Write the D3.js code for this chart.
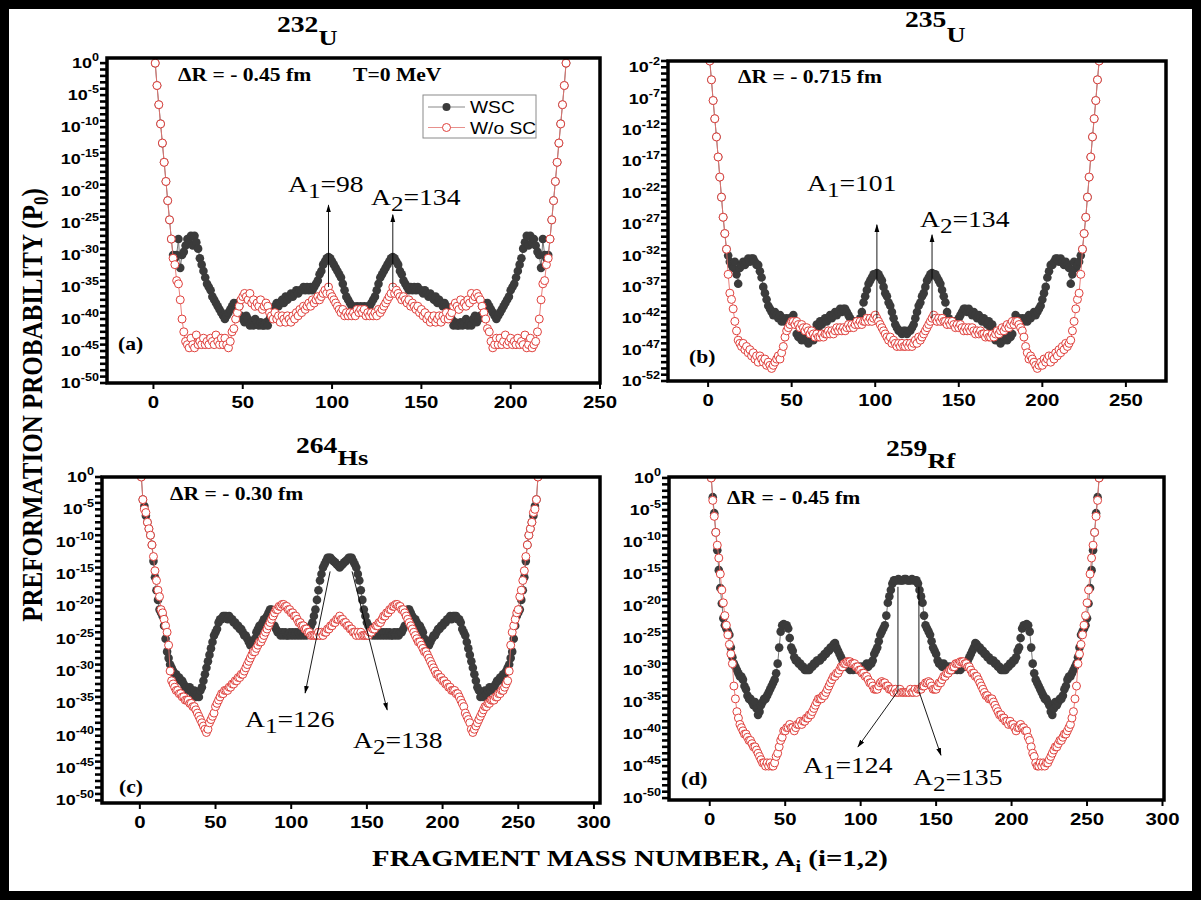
<!DOCTYPE html>
<html>
<head>
<meta charset="utf-8">
<script src="https://cdn.jsdelivr.net/npm/d3@7"></script>
<style>
  body { margin: 0; background: #fff; }
  svg { display: block; }
</style>
</head>
<body>
<svg id="chart" width="1202" height="900"></svg>
<script>
// log10(P0), one value per fragment mass A = 1, 2, 3, ...

// 232U
const u232Wsc = [
  0, -3.5, -6.5, -9.5, -12.5, -15.5, -18.5, -21.5, -24.5, -27.5,
  -30, -30.5, -30, -27.5, -32, -30, -29.5, -28.5, -27.5, -28,
  -27, -28.5, -27, -28, -29, -30.5, -31.5, -32.5, -33.5, -34.5,
  -35, -35.5, -36.5, -37, -37.5, -38, -38.5, -39, -39.5, -40,
  -39.5, -39, -38.5, -38, -37.5, -38.5, -37.5, -38, -39.5, -40,
  -40.5, -39.5, -40, -41, -40.5, -41, -40, -40.5, -41, -40.5,
  -41, -41, -40.5, -41, -40, -39.5, -38.5, -38, -37.5, -38,
  -37.5, -37, -37.5, -36.5, -37, -36.5, -36, -36.5, -36, -35.5,
  -36, -35.5, -35.5, -35, -35.5, -35, -35.5, -35, -35.5, -35,
  -34.5, -34, -33, -32.5, -31.5, -31, -30.5, -30.3, -30.5, -31,
  -31.5, -32, -32.5, -33, -33.5, -34.5, -35.5, -36.5, -37, -37.5,
  -38, -38, -38.5, -38, -38.5, -38, -38.5, -38, -38.5, -38,
  -38, -37.5, -37, -36.5, -35.5, -34.5, -33.5, -33, -32.5, -32,
  -31.5, -31, -30.5, -30.3, -30.5, -31, -31.5, -32.5, -33, -34,
  -34.5, -35, -35.5, -35, -35.5, -35, -35.5, -35, -35.5, -35.5,
  -36, -35.5, -36, -36.5, -36, -36.5, -37, -36.5, -37.5, -37,
  -37.5, -38, -37.5, -38, -38.5, -39.5, -40, -41, -40.5, -41,
  -41, -40.5, -41, -40.5, -40, -41, -40.5, -41, -40, -39.5,
  -40.5, -40, -39.5, -38, -37.5, -38.5, -37.5, -38, -38.5, -39,
  -39.5, -40, -39.5, -39, -38.5, -38, -37.5, -37, -36.5, -35.5,
  -35, -34.5, -33.5, -32.5, -31.5, -30.5, -29, -28, -27, -28.5,
  -27, -28, -27.5, -28.5, -29.5, -30, -32, -27.5, -30, -30.5,
  -30, -27.5, -24.5, -21.5, -18.5, -15.5, -12.5, -9.5, -6.5, -3.5, 0
];
const u232Wosc = [
  0, -3.5, -6.5, -9.5, -12.5, -15.5, -18.5, -21.5, -24.5, -27.5,
  -30.5, -31.5, -34, -34.5, -37, -40, -42, -43.5, -44, -44.5,
  -43, -44, -44.5, -42.5, -44, -43.5, -44, -43, -44, -43.5,
  -44, -43, -43.5, -44, -42.5, -43.5, -44, -43, -44, -43,
  -44, -44.5, -43.5, -42, -41.5, -40, -39, -38, -37, -36.5,
  -36, -36.5, -37, -36, -37.5, -37, -38, -37.5, -38, -37,
  -38.5, -38, -37.5, -38, -39, -39.5, -40, -39, -40, -39.5,
  -40.5, -39.5, -40, -40.5, -39.5, -40, -40.5, -39.5, -40, -39,
  -39.5, -38.5, -39, -38, -38.5, -38, -37.5, -38, -37, -37.5,
  -37, -36.5, -37, -36.5, -36, -35.5, -36, -35, -36, -36.5,
  -37, -37.5, -38, -38.5, -39, -38.5, -39.5, -39, -39.5, -39,
  -39.5, -39, -39.5, -38.5, -39, -38.5, -39, -38.5, -39.5, -39,
  -39.5, -39, -39.5, -39, -39.5, -38.5, -39, -38.5, -38, -37.5,
  -37, -36.5, -36, -35, -36, -35.5, -36, -36.5, -37, -36.5,
  -37, -37.5, -37, -38, -37.5, -38, -38.5, -38, -39, -38.5,
  -39.5, -39, -40, -39.5, -40.5, -40, -39.5, -40.5, -40, -39.5,
  -40.5, -39.5, -40, -39, -40, -39.5, -39, -38, -37.5, -38,
  -38.5, -37, -38, -37.5, -38, -37, -37.5, -36, -37, -36.5,
  -36, -36.5, -37, -38, -39, -40, -41.5, -42, -43.5, -44.5,
  -44, -43, -44, -43, -44, -43.5, -42.5, -44, -43.5, -43,
  -44, -43.5, -44, -43, -44, -43.5, -44, -42.5, -44.5, -44,
  -43, -44.5, -44, -43.5, -42, -40, -37, -34.5, -34, -31.5,
  -30.5, -27.5, -24.5, -21.5, -18.5, -15.5, -12.5, -9.5, -6.5, -3.5, 0
];

// 235U
const u235Wsc = [
  -1, -4, -7.3, -10.2, -13.1, -16.3, -19.5, -22.7, -25.9, -28.5,
  -31, -32, -33, -33.5, -34, -33, -35, -36.5, -34, -33.5,
  -33, -33.5, -33, -32.5, -33, -32.5, -32.5, -33, -33.5, -33.5,
  -34.5, -35.5, -37, -38, -39, -40, -40.5, -41, -41.5, -41,
  -41.5, -42, -41.5, -42.5, -42, -42.5, -42, -42.5, -42, -42,
  -41.5, -42.5, -44.5, -45, -44.5, -45.5, -45, -45.5, -45, -46,
  -45.5, -45, -45.5, -44, -43, -43.5, -42.5, -43, -42.5, -42,
  -42.5, -42, -41.5, -42, -41.5, -41, -41.5, -41, -40.5, -41,
  -40.5, -40.5, -41, -41.5, -42, -42.5, -42.5, -43, -42.5, -42.5,
  -42, -41, -39.5, -38.5, -37.5, -36.5, -36, -35.5, -35, -35,
  -34.8, -35, -35.5, -36, -37, -38, -38.5, -39.5, -40, -41,
  -42, -43, -43.5, -44, -44, -44.5, -44, -44, -44.5, -44,
  -44, -43.5, -43, -42, -41, -40, -39.5, -38.5, -38, -37,
  -36, -35.5, -35, -34.8, -35, -35, -35.5, -36, -36.5, -37.5,
  -38.5, -39.5, -41, -42, -42.5, -42.5, -43, -42.5, -42.5, -42,
  -41.5, -41, -40.5, -40.5, -41, -40.5, -41, -41.5, -41, -41.5,
  -42, -41.5, -42, -42.5, -42, -42.5, -43, -42.5, -43.5, -43,
  -44, -45.5, -45, -45.5, -46, -45, -45.5, -45, -45.5, -44.5,
  -45, -44.5, -42.5, -41.5, -42, -42, -42.5, -42, -42.5, -42,
  -42.5, -41.5, -42, -41.5, -41, -41.5, -41, -40.5, -40, -39,
  -38, -37, -35.5, -34.5, -33.5, -33.5, -33, -32.5, -32.5, -33,
  -32.5, -33, -33.5, -33, -33.5, -34, -36.5, -35, -33, -34,
  -33.5, -33, -32, -31, -28.5, -25.9, -22.7, -19.5, -16.3, -13.1, -10.2, -7.3, -4, -1
];
const u235Wosc = [
  -1, -4, -7.3, -10.2, -13.1, -16.3, -19.5, -22.7, -25.9, -28.5,
  -31, -35, -38, -39, -40.5, -42.5, -44, -45.5, -46, -46.5,
  -46, -47, -46.5, -47.5, -47, -48, -47.5, -48.5, -48, -49,
  -48, -48.5, -49, -48.5, -49.5, -49, -49.5, -50, -49.5, -49,
  -48.5, -48, -48.5, -47.5, -46.5, -45, -44, -43.5, -43, -42.5,
  -42.5, -43, -42.5, -43, -43.5, -43, -43.5, -44, -43.5, -44,
  -44.5, -44, -44.5, -45, -44.5, -45, -45, -44.5, -45, -44.5,
  -44.5, -44, -44.5, -44, -44.5, -44, -43.5, -44, -43.5, -44,
  -43.5, -44, -43.5, -43, -43.5, -43, -43.5, -43, -42.5, -43,
  -42.5, -43, -42.5, -42.5, -42, -42.5, -42, -42.5, -42, -41.5,
  -42, -42.5, -43, -43.5, -44, -44.5, -45, -45.5, -45, -46,
  -45.5, -46, -46.5, -46, -46.5, -46, -46.5, -46.5, -46, -46.5,
  -46, -46.5, -46, -45.5, -46, -45, -45.5, -45, -44.5, -44,
  -43.5, -43, -42.5, -42, -41.5, -42, -42.5, -42, -42.5, -42,
  -42.5, -42.5, -43, -42.5, -43, -42.5, -43, -43.5, -43, -43.5,
  -43, -43.5, -44, -43.5, -44, -43.5, -44, -43.5, -44, -44.5,
  -44, -44.5, -44, -44.5, -44.5, -45, -44.5, -45, -45, -44.5,
  -45, -44.5, -44, -44.5, -44, -43.5, -44, -43.5, -43, -43.5,
  -43, -42.5, -43, -42.5, -42.5, -43, -43.5, -44, -45, -46.5,
  -47.5, -48.5, -48, -48.5, -49, -49.5, -50, -49.5, -49, -49.5,
  -48.5, -49, -48.5, -48, -49, -48, -48.5, -47.5, -48, -47,
  -47.5, -46.5, -47, -46, -46.5, -46, -45.5, -44, -42.5, -40.5,
  -39, -38, -35, -31, -28.5, -25.9, -22.7, -19.5, -16.3, -13.1, -10.2, -7.3, -4, -1
];

// 264Hs
const hs264Wsc = [
  0, -3.5, -4.5, -6, -7, -8, -9, -10.5, -13, -15.5,
  -17.5, -19, -20.5, -21, -21.5, -23, -25, -27, -28, -29,
  -29.5, -30, -30.5, -30.5, -31, -31, -31.5, -31.5, -32, -32.5,
  -32.5, -33, -32.5, -33, -33.5, -33, -34, -33.5, -34, -33,
  -32.5, -31.5, -30.5, -29.5, -28.5, -27.5, -26.5, -25.5, -24.5, -24,
  -23.5, -22.5, -22, -22, -21.5, -21.5, -21.5, -22, -21.5, -22,
  -22, -22.5, -22.5, -23, -23, -23.5, -23.5, -24, -24.5, -24.5,
  -25, -25.5, -26, -26, -25.5, -25, -24, -23.5, -23, -23,
  -22.5, -22, -22, -21.5, -21, -20.5, -20.5, -21.5, -23, -23.5,
  -24, -24, -24.5, -24, -24.5, -24, -24.5, -24.5, -24, -24.5,
  -24, -24.5, -24, -24.5, -24, -24.5, -24, -24.5, -24, -24.5,
  -24, -23.5, -23, -22.5, -21.5, -20.5, -19, -17.5, -16, -15,
  -14, -13.5, -13, -12.5, -12.5, -12.5, -12.8, -13, -13.2, -13.5,
  -13.7, -14, -13.7, -13.5, -13.2, -13, -12.8, -12.5, -12.5, -12.5,
  -13, -13.5, -14, -15, -16, -17.5, -19, -20.5, -21.5, -22.5,
  -23, -23.5, -24, -24.5, -24, -24.5, -24, -24.5, -24, -24.5,
  -24, -24.5, -24, -24.5, -24, -24.5, -24.5, -24, -24.5, -24,
  -24.5, -24, -24, -23.5, -23, -21.5, -20.5, -20.5, -21, -21.5,
  -22, -22, -22.5, -23, -23, -23.5, -24, -25, -25.5, -26,
  -26, -25.5, -25, -24.5, -24.5, -24, -23.5, -23.5, -23, -23,
  -22.5, -22.5, -22, -22, -21.5, -22, -21.5, -21.5, -21.5, -22,
  -22, -22.5, -23.5, -24, -24.5, -25.5, -26.5, -27.5, -28.5, -29.5,
  -30.5, -31.5, -32.5, -33, -34, -33.5, -34, -33, -33.5, -33,
  -32.5, -33, -32.5, -32.5, -32, -31.5, -31.5, -31, -31, -30.5,
  -30.5, -30, -29.5, -29, -28, -27, -25, -23, -21.5, -21,
  -20.5, -19, -17.5, -15.5, -13, -10.5, -9, -8, -7, -6, -4.5, -3.5, 0
];
const hs264Wosc = [
  0, -3.5, -5, -5.5, -7, -8, -9, -10.5, -12.3, -14.5,
  -16, -17.5, -18.5, -20.5, -21, -22, -23, -24, -26, -30,
  -31.5, -32, -32.5, -33, -33, -33.5, -33.5, -34, -34, -34.5,
  -34.5, -34.5, -35, -35, -35.5, -35.5, -36, -36.5, -37, -37.5,
  -38, -38.5, -39, -39.5, -39, -38, -37.5, -37, -36.5, -35.5,
  -35, -34.5, -34, -33.5, -33.5, -33, -33, -33, -32.5, -32.5,
  -32, -32, -31.5, -31.5, -31, -31, -30.5, -30.5, -30, -29.5,
  -29, -28.5, -28, -27.5, -27, -27, -26.5, -26, -25.5, -25.5,
  -25, -24.5, -24, -23.5, -23, -22.5, -22, -21.5, -21, -20.5,
  -20.5, -20, -20, -19.7, -19.7, -20, -20, -20.5, -20.5, -21,
  -21, -21.5, -21.5, -22, -22.5, -22.5, -23, -23, -23.5, -23.5,
  -24, -24, -24.5, -24.5, -24.5, -24.5, -24.5, -24, -24.5, -24,
  -24.5, -24, -24, -23.5, -23.5, -23, -23, -22.5, -22.5, -22,
  -22, -21.5, -22, -22, -22.5, -22.5, -23, -23, -23.5, -23.5,
  -24, -24, -24.5, -24, -24.5, -24, -24.5, -24.5, -24.5, -24.5,
  -24.5, -24, -24, -23.5, -23.5, -23, -23, -22.5, -22.5, -22,
  -21.5, -21.5, -21, -21, -20.5, -20.5, -20, -20, -19.7, -19.7,
  -20, -20, -20.5, -20.5, -21, -21.5, -22, -22.5, -23, -23.5,
  -24, -24.5, -25, -25.5, -25.5, -26, -26.5, -27, -27, -27.5,
  -28, -28.5, -29, -29.5, -30, -30.5, -30.5, -31, -31, -31.5,
  -31.5, -32, -32, -32.5, -32.5, -33, -33, -33, -33.5, -33.5,
  -34, -34.5, -35, -35.5, -36.5, -37, -37.5, -38, -39, -39.5,
  -39, -38.5, -38, -37.5, -37, -36.5, -36, -35.5, -35.5, -35,
  -35, -34.5, -34.5, -34.5, -34, -34, -33.5, -33.5, -33, -33,
  -32.5, -32, -31.5, -30, -26, -24, -23, -22, -21, -20.5,
  -18.5, -17.5, -16, -14.5, -12.3, -10.5, -9, -8, -7, -5.5, -5, -3.5, 0
];

// 259Rf
const rf259Wsc = [
  0, -3, -5.5, -8.5, -11.3, -14.4, -17.2, -19.6, -21.9, -23,
  -23.5, -24, -24.5, -26.5, -28, -29, -29.5, -30, -30.5, -31,
  -31, -31.5, -32.5, -33, -34, -34.5, -34.5, -35, -35.5, -35,
  -36, -37, -36.5, -35.5, -35, -34.5, -34.5, -34, -33.5, -33,
  -32.5, -32, -31.5, -30.5, -29, -26.5, -24, -23, -22.8, -23,
  -23, -23.5, -25, -26.5, -27, -28, -28.5, -28.5, -29, -29,
  -29.5, -29.5, -30, -30, -30, -30, -29.5, -29.5, -29, -29,
  -28.5, -28.5, -28.5, -28, -28, -27.5, -27.5, -27, -27, -26.5,
  -26.5, -26, -25.8, -26.5, -27, -27.5, -28, -28.5, -29, -29.5,
  -29.5, -29.5, -30, -29.5, -30, -29.5, -29.5, -30, -29.5, -29.5,
  -29.5, -29.5, -29.5, -29, -29.5, -29, -29, -28.5, -27.5, -27,
  -26.5, -25.5, -24.5, -24, -23.5, -23, -21.5, -19.5, -18.5, -17.5,
  -16.5, -16, -16, -16, -15.8, -16, -16, -16, -15.8, -15.8,
  -16, -16, -16, -15.8, -16, -16, -16, -16.5, -17.5, -18.5,
  -19.5, -21.5, -23, -23.5, -24, -24.5, -25.5, -26.5, -27, -27.5,
  -28.5, -29, -29, -29.5, -29, -29.5, -29.5, -29.5, -29.5, -29.5,
  -30, -29.5, -29.5, -30, -29.5, -30, -29.5, -29.5, -29.5, -29,
  -28.5, -28, -27.5, -27, -26.5, -25.8, -26, -26.5, -26.5, -27,
  -27, -27.5, -27.5, -28, -28, -28.5, -28.5, -28.5, -29, -29,
  -29.5, -29.5, -30, -30, -30, -30, -29.5, -29.5, -29, -29,
  -28.5, -28.5, -28, -27, -26.5, -25, -23.5, -23, -23, -22.8,
  -23, -24, -26.5, -29, -30.5, -31.5, -32, -32.5, -33, -33.5,
  -34, -34.5, -34.5, -35, -35.5, -36.5, -37, -36, -35, -35.5,
  -35, -34.5, -34.5, -34, -33, -32.5, -31.5, -31, -31, -30.5,
  -30, -29.5, -29, -28, -26.5, -24.5, -24, -23.5, -23, -21.9,
  -19.6, -17.2, -14.4, -11.3, -8.5, -5.5, -3, 0
];
const rf259Wosc = [
  0, -3.5, -6, -8.5, -10.5, -12.5, -15, -17.5, -19.5, -21.5,
  -23, -24.5, -26, -27.5, -29, -32.5, -34.5, -36.5, -37.5, -38.5,
  -39, -39.5, -40, -40, -40.5, -41, -41, -41.5, -42, -42,
  -42.5, -43, -43.5, -44, -44.5, -44.5, -45, -44.5, -45, -44.5,
  -45, -45, -44.5, -43.5, -43, -42, -41, -40.5, -39.5, -39.5,
  -39, -39, -38.5, -39, -39, -39.5, -39, -38.5, -38.5, -38,
  -38.5, -38, -38, -37.5, -37.5, -37, -37, -36.5, -36, -35.5,
  -35, -34.5, -34.5, -34.5, -34, -34, -33.5, -33, -32.5, -32,
  -31.5, -31, -31, -30.5, -30.5, -30, -29.5, -29.5, -29, -29,
  -28.7, -28.7, -28.7, -29, -29, -29, -29.5, -29.5, -30, -30,
  -30.5, -30.5, -31, -31, -31.5, -32, -32, -32.5, -33, -33,
  -33, -32.5, -32, -31.8, -32, -32, -32.5, -32.5, -33, -33,
  -33, -33.5, -33, -33.5, -33.5, -33, -33.5, -33.5, -33.5, -33.5,
  -33.5, -33.5, -33, -33.5, -33.5, -33, -33.5, -33, -33, -33,
  -32.5, -32.5, -32, -32, -31.8, -32, -32.5, -33, -33, -33,
  -32.5, -32, -32, -31.5, -31, -31, -30.5, -30.5, -30, -30,
  -29.5, -29.5, -29, -29, -29, -28.7, -28.7, -28.7, -29, -29,
  -29.5, -29.5, -30, -30.5, -30.5, -31, -31, -31.5, -32, -32.5,
  -33, -33.5, -34, -34, -34.5, -34.5, -34.5, -35, -35.5, -36,
  -36.5, -37, -37, -37.5, -37.5, -38, -38, -38.5, -38, -38.5,
  -38.5, -39, -39.5, -39, -39, -38.5, -39, -39, -39.5, -39.5,
  -40.5, -41, -42, -43, -43.5, -44.5, -45, -45, -44.5, -45,
  -44.5, -45, -44.5, -44.5, -44, -43.5, -43, -42.5, -42, -42,
  -41.5, -41, -41, -40.5, -40, -40, -39.5, -39, -38.5, -37.5,
  -36.5, -34.5, -32.5, -29, -27.5, -26, -24.5, -23, -21.5, -19.5,
  -17.5, -15, -12.5, -10.5, -8.5, -6, -3.5, 0
];

// tick values
const yTicksStd = [-50, -45, -40, -35, -30, -25, -20, -15, -10, -5, 0];
const yTicksB = [-52, -47, -42, -37, -32, -27, -22, -17, -12, -7, -2];
const xTicks250 = [0, 50, 100, 150, 200, 250];
const xTicks300 = [0, 50, 100, 150, 200, 250, 300];

// peak annotations (mass number, label)
const peaksA = [{ a: 98, label: '98' }, { a: 134, label: '134' }];
const peaksB = [{ a: 101, label: '101' }, { a: 134, label: '134' }];
const peaksC = [{ a: 126, label: '126' }, { a: 138, label: '138' }];
const peaksD = [{ a: 124, label: '124' }, { a: 135, label: '135' }];

const seriesNames = ['WSC', 'W/o SC'];

const DARK = '#3b3b3b';
const RED = '#e0403c';
const SX = 1.2; // the original figure is stretched sideways, so is its lettering

const svg = d3.select('#chart');
const defs = svg.append('defs');

defs.append('marker')
  .attr('id', 'arrow')
  .attr('viewBox', '0 0 10 10')
  .attr('refX', 9)
  .attr('refY', 5)
  .attr('markerUnits', 'userSpaceOnUse')
  .attr('markerWidth', 8)
  .attr('markerHeight', 8)
  .attr('orient', 'auto')
  .append('path')
  .attr('d', 'M0,2 L10,5 L0,8 z')
  .attr('fill', '#000');

// outer frame of the figure
svg.append('rect')
  .attr('x', 4.5).attr('y', 4.5)
  .attr('width', 1192).attr('height', 891)
  .attr('fill', 'none')
  .attr('stroke', '#000')
  .attr('stroke-width', 9);

function stretched(parent, x, y, anchor) {
  return parent.append('text')
    .attr('transform', `translate(${x},${y}) scale(${SX},1)`)
    .attr('text-anchor', anchor || 'start');
}

const panels = [
  {
    key: 'a', iso: '232', sym: 'U', wsc: u232Wsc, wosc: u232Wosc,
    left: 107, top: 58, right: 600, bottom: 383,
    xMin: -26, xMax: 250, yMin: -50, yMax: 0.8,
    yTicks: yTicksStd, xTicks: xTicks250,
    title: [277, 32, 13], dr: 'ΔR = - 0.45 fm', drPos: [178, 81], tag: [118, 350],
    peaks: peaksA,
    arrows: [[[98, -35], [98, -22.2]], [[134, -35], [134, -23.7]]],
    peakText: [[288, 192], [371, 205]],
  },
  {
    key: 'b', iso: '235', sym: 'U', wsc: u235Wsc, wosc: u235Wosc,
    left: 668, top: 61, right: 1166, bottom: 381,
    xMin: -24, xMax: 274, yMin: -52, yMax: -1,
    yTicks: yTicksB, xTicks: xTicks250,
    title: [905, 27, 15], dr: 'ΔR = - 0.715 fm', drPos: [738, 83], tag: [689, 363],
    peaks: peaksB,
    arrows: [[[101, -42], [101, -27.1]], [[134, -42], [134, -28.7]]],
    peakText: [[807, 191], [920, 227]],
  },
  {
    key: 'c', iso: '264', sym: 'Hs', wsc: hs264Wsc, wosc: hs264Wosc,
    left: 102, top: 477, right: 600, bottom: 803,
    xMin: -25, xMax: 304, yMin: -50.4, yMax: 0,
    yTicks: yTicksStd, xTicks: xTicks300,
    title: [296, 453, 12], dr: 'ΔR = - 0.30 fm', drPos: [170, 500], tag: [119, 793],
    peaks: peaksC,
    arrows: [[[125.7, -14.6], [109.2, -33.4]], [[140.2, -14.6], [163.4, -36]]],
    peakText: [[245, 727], [353, 748]],
  },
  {
    key: 'd', iso: '259', sym: 'Rf', wsc: rf259Wsc, wosc: rf259Wosc,
    left: 669, top: 477, right: 1164, bottom: 800,
    xMin: -27, xMax: 301, yMin: -50.3, yMax: 0.15,
    yTicks: yTicksStd, xTicks: xTicks300,
    title: [886, 456, 12], dr: 'ΔR = - 0.45 fm', drPos: [727, 504], tag: [681, 785],
    peaks: peaksD,
    arrows: [[[124.7, -17], [124.7, -33.3], [98.2, -42]], [[138.6, -17], [138.6, -33.3], [153.2, -43.3]]],
    peakText: [[803, 773], [913, 785]],
  },
];

function drawPanel(p) {
  const x = d3.scaleLinear().domain([p.xMin, p.xMax]).range([p.left, p.right]);
  const y = d3.scaleLog()
    .domain([Math.pow(10, p.yMin), Math.pow(10, p.yMax)])
    .range([p.bottom, p.top]);

  const g = svg.append('g').attr('class', 'panel-' + p.key);

  defs.append('clipPath').attr('id', 'clip-' + p.key)
    .append('rect')
    .attr('x', p.left).attr('y', p.top)
    .attr('width', p.right - p.left).attr('height', p.bottom - p.top);

  const toPts = (arr) => arr.map((e, i) => ({ a: i + 1, p: Math.pow(10, e) }));
  const line = d3.line().x((d) => x(d.a)).y((d) => y(d.p));

  const plot = g.append('g').attr('clip-path', `url(#clip-${p.key})`);

  const wsc = toPts(p.wsc);
  const wosc = toPts(p.wosc);

  plot.append('path').datum(wsc)
    .attr('d', line).attr('fill', 'none')
    .attr('stroke', '#666').attr('stroke-width', 0.9);
  plot.selectAll('.dot-wsc').data(wsc).join('circle')
    .attr('class', 'dot-wsc')
    .attr('cx', (d) => x(d.a)).attr('cy', (d) => y(d.p))
    .attr('r', 4.3).attr('fill', DARK);

  plot.append('path').datum(wosc)
    .attr('d', line).attr('fill', 'none')
    .attr('stroke', '#e7706c').attr('stroke-width', 0.9);
  plot.selectAll('.dot-wosc').data(wosc).join('circle')
    .attr('class', 'dot-wosc')
    .attr('cx', (d) => x(d.a)).attr('cy', (d) => y(d.p))
    .attr('r', 4).attr('fill', '#fff')
    .attr('stroke', RED).attr('stroke-width', 1);

  // y ticks: one per decade, labels every five
  const decades = d3.range(Math.ceil(p.yMin), Math.floor(p.yMax) + 1);
  g.selectAll('.ytick').data(decades).join('line')
    .attr('x1', p.left - 7).attr('x2', p.left)
    .attr('y1', (d) => y(Math.pow(10, d))).attr('y2', (d) => y(Math.pow(10, d)))
    .attr('stroke', '#000').attr('stroke-width', 2.6);

  p.yTicks.forEach((t) => {
    const lab = stretched(g, p.left - 8, y(Math.pow(10, t)) + 5, 'end')
      .attr('font-family', 'Liberation Sans, Arial, sans-serif')
      .attr('font-weight', 'bold')
      .attr('font-size', 15);
    lab.append('tspan').text('10');
    lab.append('tspan').attr('dy', -7).attr('font-size', 10.5).text(String(t));
  });

  // x ticks
  g.selectAll('.xtick').data(p.xTicks).join('line')
    .attr('x1', (d) => x(d)).attr('x2', (d) => x(d))
    .attr('y1', p.bottom).attr('y2', p.bottom + 6)
    .attr('stroke', '#000').attr('stroke-width', 2);
  p.xTicks.forEach((t) => {
    stretched(g, x(t), p.bottom + 25, 'middle')
      .attr('font-family', 'Liberation Sans, Arial, sans-serif')
      .attr('font-weight', 'bold')
      .attr('font-size', 17)
      .text(t);
  });

  // frame
  g.append('rect')
    .attr('x', p.left).attr('y', p.top)
    .attr('width', p.right - p.left).attr('height', p.bottom - p.top)
    .attr('fill', 'none').attr('stroke', '#000').attr('stroke-width', 3.5);

  // nucleus title
  const tt = stretched(g, p.title[0], p.title[1], 'start')
    .attr('font-family', 'Liberation Serif, Times New Roman, serif')
    .attr('font-weight', 'bold').attr('font-size', 23);
  tt.append('tspan').text(p.iso);
  tt.append('tspan').attr('dy', p.title[2]).attr('font-size', 22).text(p.sym);

  const serifBold = (t) => t
    .attr('font-family', 'Liberation Serif, Times New Roman, serif')
    .attr('font-weight', 'bold');

  serifBold(stretched(g, p.drPos[0], p.drPos[1], 'start')).attr('font-size', 18).text(p.dr);
  serifBold(stretched(g, p.tag[0], p.tag[1], 'start')).attr('font-size', 18).text(`(${p.key})`);

  // arrows to the peaks
  const aline = d3.line().x((d) => x(d[0])).y((d) => y(Math.pow(10, d[1])));
  p.arrows.forEach((pts) => {
    g.append('path')
      .attr('d', aline(pts))
      .attr('fill', 'none')
      .attr('stroke', '#000').attr('stroke-width', 0.9)
      .attr('marker-end', 'url(#arrow)');
  });

  p.peaks.forEach((pk, i) => {
    const t = stretched(g, p.peakText[i][0], p.peakText[i][1], 'start')
      .attr('font-family', 'Liberation Serif, Times New Roman, serif')
      .attr('font-size', 23);
    t.append('tspan').text('A');
    t.append('tspan').attr('dy', 6).attr('font-size', 21).text(String(i + 1));
    t.append('tspan').attr('dy', -6).text('=' + pk.label);
  });

  return { x, y, g };
}

const drawn = panels.map(drawPanel);

// extra text and legend in panel (a)
const ga = drawn[0].g;
stretched(ga, 353, 81, 'start')
  .attr('font-family', 'Liberation Serif, Times New Roman, serif')
  .attr('font-weight', 'bold').attr('font-size', 18)
  .text('T=0 MeV');

const legend = ga.append('g');
legend.append('rect')
  .attr('x', 423).attr('y', 95).attr('width', 113).attr('height', 43)
  .attr('fill', '#fff').attr('stroke', '#8a8a8a').attr('stroke-width', 1);
seriesNames.forEach((name, i) => {
  const ly = 107 + i * 20.5;
  legend.append('line')
    .attr('x1', 428).attr('x2', 465).attr('y1', ly).attr('y2', ly)
    .attr('stroke', i === 0 ? '#888' : '#e7908c').attr('stroke-width', 1);
  legend.append('circle')
    .attr('cx', 446.5).attr('cy', ly).attr('r', 4)
    .attr('fill', i === 0 ? DARK : '#fff')
    .attr('stroke', i === 0 ? 'none' : RED).attr('stroke-width', 1);
  stretched(legend, 470, ly + 6, 'start')
    .attr('font-family', 'Liberation Sans, Arial, sans-serif')
    .attr('font-size', 16)
    .text(name);
});

// shared axis titles
const yl = svg.append('text')
  .attr('transform', `translate(42,405) scale(${SX},1) rotate(-90)`)
  .attr('text-anchor', 'middle')
  .attr('font-family', 'Liberation Serif, Times New Roman, serif')
  .attr('font-weight', 'bold')
  .attr('font-size', 25);
yl.append('tspan').text('PREFORMATION PROBABILITY (P');
yl.append('tspan').attr('dy', 5).attr('font-size', 17).text('0');
yl.append('tspan').attr('dy', -5).text(')');

const xl = stretched(svg, 630, 866, 'middle')
  .attr('font-family', 'Liberation Serif, Times New Roman, serif')
  .attr('font-weight', 'bold')
  .attr('font-size', 24);
xl.append('tspan').text('FRAGMENT MASS NUMBER, A');
xl.append('tspan').attr('dy', 6).attr('font-size', 17).text('i');
xl.append('tspan').attr('dy', -6).text(' (i=1,2)');
</script>
</body>
</html>
